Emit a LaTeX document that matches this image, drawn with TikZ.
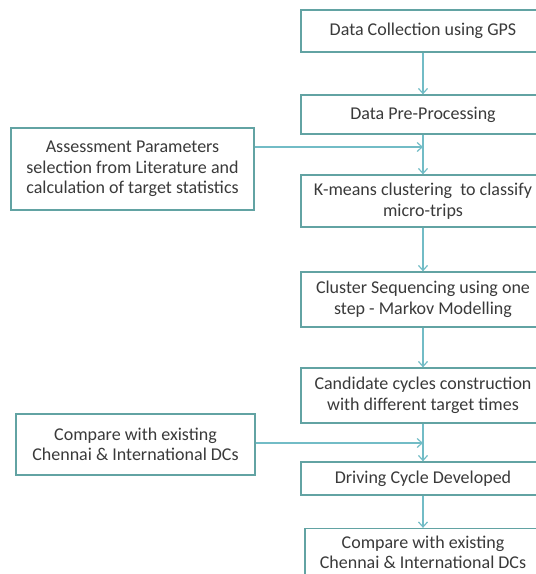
\documentclass[tikz,border=0pt]{standalone}
\usepackage{fontspec}
\setmainfont{Carlito}
\usetikzlibrary{arrows.meta}
\definecolor{boxline}{HTML}{62A3A3}
\definecolor{arrowline}{HTML}{72BCC6}
\definecolor{txt}{HTML}{3A3A3A}
\tikzset{
  box/.style={draw=boxline, line width=1.3pt, fill=white, text=txt,
    align=center, inner sep=2pt, font=\fontsize{18}{20.5}\selectfont},
  conn/.style={draw=arrowline, line width=1.2pt,
    -{Straight Barb[length=5pt,width=9pt,line width=1.2pt]}}
}
\begin{document}
\begin{tikzpicture}[x=1pt,y=-1pt]
\useasboundingbox (0,0) rectangle (536,574);
\clip (0,0) rectangle (536,574);
\node[box, minimum width=244pt, minimum height=42pt] (b1) at (423,31) {Data Collection using GPS};
\node[box, minimum width=244pt, minimum height=39pt] (b2) at (423,114.5) {Data Pre-Processing};
\node[box, minimum width=243pt, minimum height=82pt] (a1) at (132.5,169) {Assessment Parameters\\selection from Literature and\\calculation of target statistics};
\node[box, minimum width=244pt, minimum height=52pt] (b3) at (423,201) {K-means clustering~ to classify\\micro-trips};
\node[box, minimum width=244pt, minimum height=55pt] (b4) at (423,299.5) {Cluster Sequencing using one\\step - Markov Modelling};
\node[box, minimum width=244pt, minimum height=55pt] (b5) at (423,395.5) {Candidate cycles construction\\with different target times};
\node[box, minimum width=239pt, minimum height=61pt] (a2) at (135.5,444.5) {Compare with existing\\Chennai \& International DCs};
\node[box, minimum width=244pt, minimum height=33pt] (b6) at (423,478.5) {Driving Cycle Developed};
\node[box, minimum width=236pt, minimum height=48pt] (b7) at (423,552.5) {Compare with existing\\Chennai \& International DCs};
\coordinate (j1) at (423,147);
\coordinate (j2) at (423,443);
\draw[conn] (b1) -- (b2);
\draw[conn] (b2) -- (b3);
\draw[conn] (a1.east |- j1) -- (j1);
\draw[conn] (b3) -- (b4);
\draw[conn] (b4) -- (b5);
\draw[conn] (b5) -- (b6);
\draw[conn] (a2.east |- j2) -- (j2);
\draw[conn] (b6) -- (b7);
\end{tikzpicture}
\end{document}
